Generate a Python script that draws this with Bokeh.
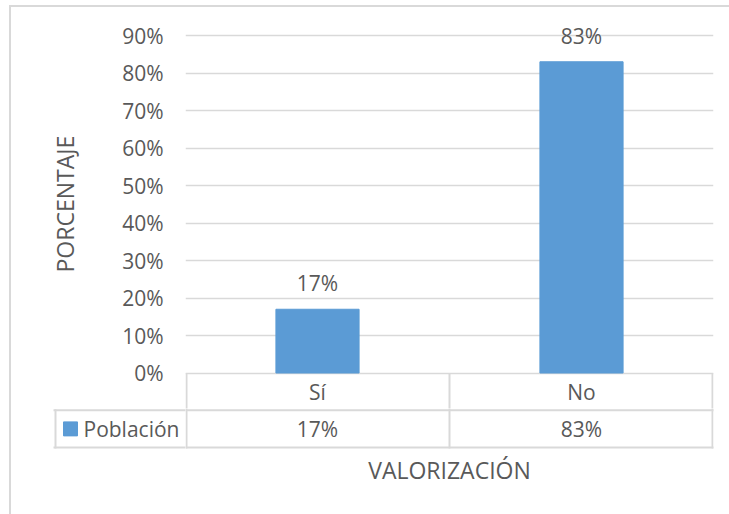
from bokeh.plotting import figure
from bokeh.models import (FactorRange, Range1d, FixedTicker, PrintfTickFormatter,
                          LinearAxis, ColumnDataSource, LabelSet, Title)
from bokeh.layouts import column, row
from bokeh.core.properties import value
from bokeh.embed import file_html
from bokeh.resources import INLINE

# ---- data ----
categories = ["Sí", "No"]
values = [17, 83]
series_name = "Población"
y_ticks = [0, 10, 20, 30, 40, 50, 60, 70, 80, 90]
x_title = "VALORIZACIÓN"
y_title = "PORCENTAJE"

value_labels = [f"{v}%" for v in values]

# ---- style ----
FONT = "Open Sans"
TEXT = "#595959"
GRID = "#D9D9D9"
BAR = "#5B9BD5"
W, H = 729, 514

# ---- layout geometry (pixels) ----
FRAME_L, FRAME_R = 185, 713          # plot area / data-table category columns
PLOT_TOP, ZERO_Y = 20, 372.5         # top of plot frame, position of 0%
PX_PER_UNIT = 3.75                   # pixels per percentage point
A_H = 408                            # chart figure height (includes table row 1)
TABLE_BOTTOM = 449
CAT_W = (FRAME_R - FRAME_L) / len(categories)
ROW_H = 37.25
LEG_L = 55                           # left edge of legend cell
n = len(categories)
edge = 1 / CAT_W                     # keep outer rules inside the frame


def rows_at(py):
    """table-row coordinate of a pixel row"""
    return (py - ZERO_Y) / ROW_H


def u(px):
    """category coordinate of a pixel column"""
    return (px - FRAME_L) / CAT_W


rule_x = [edge] + list(range(1, n)) + [n - edge]
cat_centers = [i + 0.5 for i in range(n)]

# ================= chart (with table row 1) =================
y_start = -(A_H - ZERO_Y) / PX_PER_UNIT
y_end = y_start + (A_H - PLOT_TOP) / PX_PER_UNIT
pa = figure(width=W, height=A_H,
            x_range=FactorRange(factors=categories, range_padding=0),
            y_range=Range1d(y_start, y_end),
            x_axis_location=None,
            output_backend="svg", toolbar_location=None,
            min_border_left=FRAME_L, min_border_right=W - FRAME_R,
            min_border_top=PLOT_TOP, min_border_bottom=0)
pa.outline_line_color = None
pa.background_fill_color = None
pa.border_fill_color = None
pa.extra_y_ranges = {"rows": Range1d(rows_at(A_H), rows_at(PLOT_TOP))}

ya = pa.yaxis[0]
ya.ticker = FixedTicker(ticks=y_ticks)
ya.formatter = PrintfTickFormatter(format="%d%%")
ya.axis_line_color = None
ya.major_tick_line_color = None
ya.minor_tick_line_color = None
ya.major_label_standoff = 16
ya.major_label_text_font = FONT
ya.major_label_text_font_size = "21px"
ya.major_label_text_color = TEXT

pa.add_layout(Title(text=y_title, align="left", offset=A_H - 272, standoff=78,
                    text_font=FONT, text_font_size="23px", text_font_style="normal",
                    text_color=TEXT), "left")

pa.ygrid.ticker = FixedTicker(ticks=y_ticks)
pa.ygrid.grid_line_color = GRID
pa.ygrid.grid_line_width = 1.5
pa.xgrid.grid_line_color = None

src = ColumnDataSource(dict(cat=categories, val=values, lab=value_labels,
                            xc=cat_centers, r1=[0.5] * n, r2=[1.5] * n))
bars = pa.vbar(x="cat", top="val", width=0.315, source=src,
               fill_color=BAR, line_color=BAR)
pa.add_layout(LabelSet(x="cat", y="val", text="lab", source=src,
                       y_offset=18, text_align="center", text_baseline="alphabetic",
                       text_font=value(FONT), text_font_size="21px", text_color=TEXT))

# table row 1: column rules and category names
pa.segment(x0=rule_x, x1=rule_x, y0=[0] * (n + 1), y1=[2] * (n + 1),
           y_range_name="rows", line_color=GRID, line_width=2)
pa.text(x="cat", y="r1", text="cat", source=src, y_range_name="rows",
        text_align="center", text_baseline="middle", text_font=value(FONT),
        text_font_size="21px", text_color=TEXT)

# ================= table row 2 =================
B_H = H - A_H
frame_h = TABLE_BOTTOM - A_H
table_y = Range1d(rows_at(TABLE_BOTTOM), rows_at(A_H))

pb = figure(width=W - FRAME_L, height=B_H,
            x_range=Range1d(0, n),
            y_range=table_y,
            x_axis_location=None, y_axis_location=None,
            output_backend="svg", toolbar_location=None,
            min_border_left=0, min_border_right=W - FRAME_R,
            min_border_top=0, min_border_bottom=B_H - frame_h)
pb.outline_line_color = None
pb.background_fill_color = None
pb.border_fill_color = None
pb.grid.visible = False
xa = LinearAxis(ticker=FixedTicker(ticks=[]),
                axis_line_color=None, major_tick_line_color=None,
                minor_tick_line_color=None,
                axis_label=x_title, axis_label_text_font=FONT,
                axis_label_text_font_size="23px", axis_label_text_font_style="normal",
                axis_label_text_color=TEXT, axis_label_standoff=4)
pb.add_layout(xa, "below")

pb.segment(x0=[-1, -1], x1=[n + 1, n + 1], y0=[1, 2], y1=[1, 2],
           line_color=GRID, line_width=2)
pb.segment(x0=rule_x, x1=rule_x, y0=[0] * (n + 1), y1=[2] * (n + 1),
           line_color=GRID, line_width=2, line_cap="square")
pb.text(x="xc", y="r2", text="lab", source=src, text_align="center",
        text_baseline="middle", text_font=value(FONT), text_font_size="21px",
        text_color=TEXT)

# legend cell
pc = figure(width=FRAME_L, height=B_H,
            x_range=Range1d(u(LEG_L - 2), 0),
            y_range=table_y,
            x_axis_location=None, y_axis_location=None,
            output_backend="svg", toolbar_location=None,
            min_border_left=LEG_L - 2, min_border_right=0,
            min_border_top=0, min_border_bottom=B_H - frame_h)
pc.outline_line_color = None
pc.background_fill_color = None
pc.border_fill_color = None
pc.grid.visible = False
pc.segment(x0=[-1, -1], x1=[1, 1], y0=[1, 2], y1=[1, 2],
           line_color=GRID, line_width=2)
pc.segment(x0=[u(LEG_L)], x1=[u(LEG_L)], y0=[1], y1=[2],
           line_color=GRID, line_width=2, line_cap="square")
pc.scatter(x=[u(LEG_L + 15)], y=[1.5], marker="square", size=14,
           fill_color=BAR, line_color=BAR)
pc.text(x=[u(LEG_L + 28)], y=[1.5], text=[series_name], text_align="left",
        text_baseline="middle", text_font=value(FONT), text_font_size="21px",
        text_color=TEXT)

layout = column(pa, row(pc, pb),
                styles={"background":
                        "linear-gradient(#d9d9d9,#d9d9d9) 9px 5px / 2px 1000px no-repeat, "
                        "linear-gradient(#d9d9d9,#d9d9d9) 9px 5px / 1000px 2px no-repeat, "
                        "#ffffff"})

open("out.html", "w").write(file_html(layout, INLINE))
